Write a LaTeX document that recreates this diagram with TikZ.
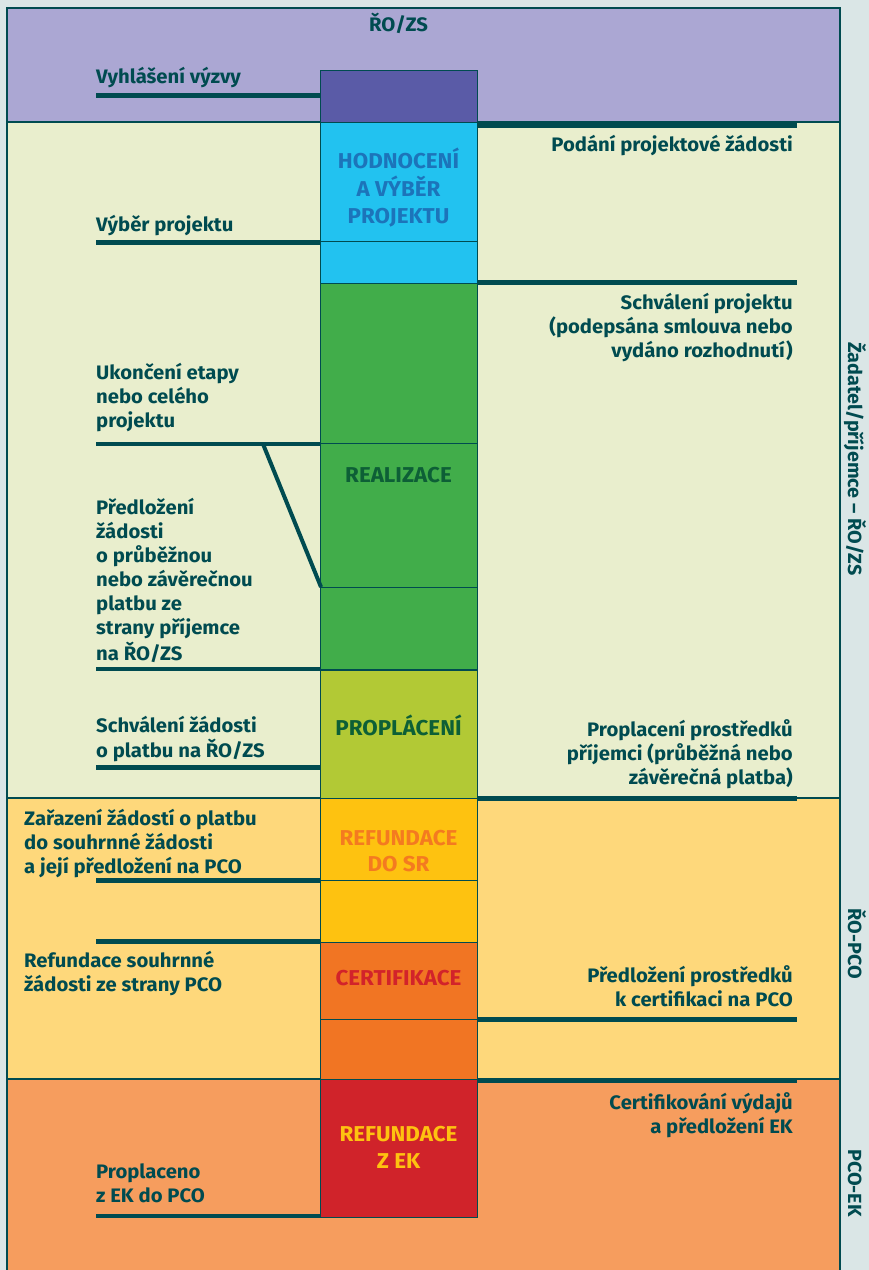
\documentclass[tikz,border=0pt]{standalone}
\usepackage{fontspec}
\setmainfont{Fira Sans}[FakeStretch=1.04]
\definecolor{bgc}{HTML}{DAE6E6}
\definecolor{dark}{HTML}{004B50}
\definecolor{purpleband}{HTML}{ABA7D3}
\definecolor{creamband}{HTML}{E9EECD}
\definecolor{yellowband}{HTML}{FED87B}
\definecolor{orangeband}{HTML}{F69D5E}
\definecolor{darkpurple}{HTML}{5A5BA7}
\definecolor{cyanblk}{HTML}{22C2F0}
\definecolor{greenblk}{HTML}{41AD4A}
\definecolor{ygblk}{HTML}{B2C935}
\definecolor{yellowblk}{HTML}{FEC210}
\definecolor{orangeblk}{HTML}{F17523}
\definecolor{redblk}{HTML}{D0232A}
\definecolor{bluetxt}{HTML}{1C74BA}
\definecolor{greentxt}{HTML}{0D5F36}
\definecolor{orangetxt}{HTML}{F47A20}
\definecolor{redtxt}{HTML}{D2232A}
\definecolor{yellowtxt}{HTML}{FEC210}
\newcommand{\txtl}[1]{\begin{tabular}[t]{@{}l@{}}#1\end{tabular}}
\newcommand{\txtr}[1]{\begin{tabular}[t]{@{}r@{}}#1\end{tabular}}
\newcommand{\txtc}[1]{\begin{tabular}[t]{@{}c@{}}#1\end{tabular}}
\tikzset{
  lbl/.style={font=\fontsize{19.5}{24}\selectfont\bfseries, text=dark, inner sep=0pt},
  coltxt/.style={font=\fontsize{21.5}{26.5}\selectfont\bfseries, inner sep=0pt},
  sidelbl/.style={font=\fontsize{19}{24}\selectfont\bfseries, text=dark, inner sep=0pt, rotate=-90, anchor=base},
  frame/.style={draw=dark, line width=1.5pt},
  blk/.style={draw=dark, line width=1pt},
  leadl/.style={draw=dark, line width=4.5pt},
  leadr/.style={draw=dark, line width=5pt},
}
\begin{document}
\begin{tikzpicture}[x=1pt, y=-1pt]
\useasboundingbox (0,0) rectangle (869,1270);
\fill[bgc] (0,0) rectangle (869,1270);
% bands
\fill[purpleband] (7,8) rectangle (840,122);
\fill[creamband] (7,122) rectangle (840,798);
\fill[yellowband] (7,798) rectangle (840,1079);
\fill[orangeband] (7,1079) rectangle (840,1272);
\draw[frame] (7,1272) -- (7,8) -- (840,8) -- (840,1272);
\draw[frame] (7,122) -- (840,122);
\draw[frame] (7,798) -- (840,798);
\draw[frame] (7,1079) -- (840,1079);
% column blocks
\filldraw[blk, fill=darkpurple] (320,70) rectangle (477,122);
\filldraw[blk, fill=cyanblk] (320,122) rectangle (477,241);
\filldraw[blk, fill=cyanblk] (320,241) rectangle (477,283);
\filldraw[blk, fill=greenblk] (320,283) rectangle (477,443);
\filldraw[blk, fill=greenblk] (320,443) rectangle (477,587);
\filldraw[blk, fill=greenblk] (320,587) rectangle (477,669);
\filldraw[blk, fill=ygblk] (320,670) rectangle (477,798);
\filldraw[blk, fill=yellowblk] (320,798) rectangle (477,880);
\filldraw[blk, fill=yellowblk] (320,880) rectangle (477,942);
\filldraw[blk, fill=orangeblk] (320,942) rectangle (477,1019);
\filldraw[blk, fill=orangeblk] (320,1019) rectangle (477,1079);
\filldraw[blk, fill=redblk] (320,1079) rectangle (477,1217);
% column edge coordinates
\coordinate (colL) at (320,0);
\coordinate (colR) at (477,0);
% left leader starts
\coordinate (l1) at (96,95.5);
\coordinate (l2) at (96,242.5);
\coordinate (l3) at (96,444);
\coordinate (l4) at (96,669);
\coordinate (l5) at (96,767.5);
\coordinate (l6) at (96,880.5);
\coordinate (l7) at (96,941.5);
\coordinate (l8) at (96,1216);
\foreach \c in {l1,l2,l3,l4,l5,l6,l7,l8}{
  \draw[leadl] (\c) -- (\c -| colL);
}
% right leader ends
\coordinate (r1) at (797,125);
\coordinate (r2) at (797,282);
\coordinate (r3) at (797,798.5);
\coordinate (r4) at (797,1019);
\coordinate (r5) at (797,1080.5);
\foreach \c in {r1,r2,r3,r4,r5}{
  \draw[leadr] (\c -| colR) -- (\c);
}
% diagonal
\coordinate (d1) at (263,444);
\coordinate (d2) at (321,587);
\draw[draw=dark, line width=4pt] (d1) -- (d2);
% texts
\node[lbl, anchor=base] (title) at (398.5,31.7) {ŘO/ZS};
\node[lbl, anchor=base west] (vyhl) at (96,83) {Vyhlášení výzvy};
\node[lbl, anchor=base east] (podani) at (793,151) {Podání projektové žádosti};
\node[coltxt, text=bluetxt, anchor=base] (hodn) at (398.5,168) {\txtc{HODNOCENÍ\\A VÝBĚR\\PROJEKTU}};
\node[lbl, anchor=base west] (vyber) at (96,231) {Výběr projektu};
\node[lbl, anchor=base east] (schvp) at (793,309.5) {\txtr{Schválení projektu\\(podepsána smlouva nebo\\vydáno rozhodnutí)}};
\node[lbl, anchor=base west] (ukon) at (96,379) {\txtl{Ukončení etapy\\nebo celého\\projektu}};
\node[coltxt, text=greentxt, anchor=base] (real) at (398.5,482) {REALIZACE};
\node[lbl, anchor=base west] (predl) at (96,514.3) {\txtl{Předložení\\žádosti\\o průběžnou\\nebo závěrečnou\\platbu ze\\strany příjemce\\na ŘO/ZS}};
\node[lbl, anchor=base west] (schvz) at (96,732.3) {\txtl{Schválení žádosti\\o platbu na ŘO/ZS}};
\node[coltxt, text=greentxt, anchor=base] (propl) at (398.5,735) {PROPLÁCENÍ};
\node[lbl, anchor=base east] (proplp) at (793,736.7) {\txtr{Proplacení prostředků\\příjemci (průběžná nebo\\závěrečná platba)}};
\node[lbl, anchor=base west] (zaraz) at (24,825) {\txtl{Zařazení žádostí o platbu\\do souhrnné žádosti\\a její předložení na PCO}};
\node[coltxt, text=orangetxt, anchor=base] (refsr) at (398.5,845) {\txtc{REFUNDACE\\DO SR}};
\node[lbl, anchor=base west] (refs) at (24,967.3) {\txtl{Refundace souhrnné\\žádosti ze strany PCO}};
\node[coltxt, text=redtxt, anchor=base] (cert) at (398.5,985) {CERTIFIKACE};
\node[lbl, anchor=base east] (predp) at (793,982.3) {\txtr{Předložení prostředků\\k certifikaci na PCO}};
\node[lbl, anchor=base east] (certv) at (793,1109) {\txtr{Certifikování výdajů\\a předložení EK}};
\node[coltxt, text=yellowtxt, anchor=base] (refek) at (398.5,1141.7) {\txtc{REFUNDACE\\Z EK}};
\node[lbl, anchor=base west] (propek) at (96,1178.3) {\txtl{Proplaceno\\z EK do PCO}};
% side labels
\node[sidelbl] (side1) at (848,459) {Žadatel/příjemce – ŘO/ZS};
\node[sidelbl] (side2) at (848,944) {ŘO-PCO};
\node[sidelbl] (side3) at (848,1183) {PCO-EK};
\end{tikzpicture}
\end{document}
